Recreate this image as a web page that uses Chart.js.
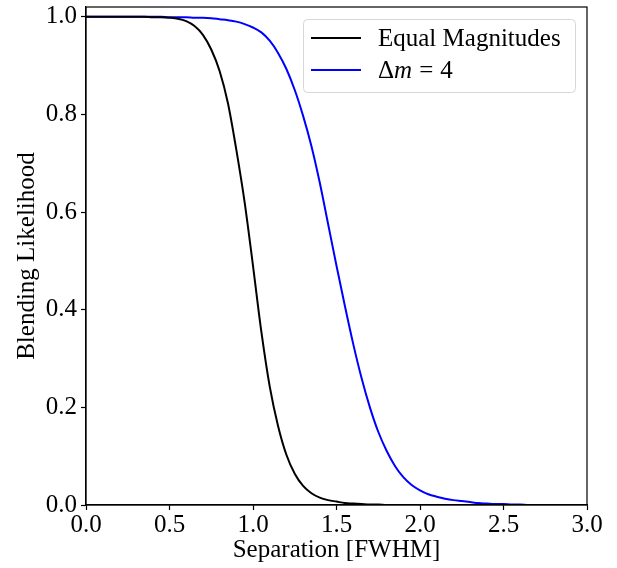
<!DOCTYPE html>
<html>
<head>
<meta charset="utf-8">
<script src="https://cdn.jsdelivr.net/npm/chart.js@4"></script>
<style>
  html, body { margin: 0; padding: 0; background: #fff; }
  #wrap { position: relative; width: 617px; height: 568px; }
</style>
</head>
<body>
<div id="wrap"><canvas id="chart"></canvas></div>
<script>
// ─── Data ────────────────────────────────────────────────────────────────────

const separation = [
  0.00, 0.05, 0.10, 0.15, 0.20, 0.25, 0.30, 0.35, 0.40, 0.45,
  0.50, 0.55, 0.60, 0.65, 0.70, 0.75, 0.80, 0.85, 0.90, 0.95,
  1.00, 1.05, 1.10, 1.15, 1.20, 1.25, 1.30, 1.35, 1.40, 1.45,
  1.50, 1.55, 1.60, 1.65, 1.70, 1.75, 1.80, 1.85, 1.90, 1.95,
  2.00, 2.05, 2.10, 2.15, 2.20, 2.25, 2.30, 2.35, 2.40, 2.45,
  2.50, 2.55, 2.60, 2.65, 2.70, 2.75, 2.80, 2.85, 2.90, 2.95,
  3.00,
];

const equalMagnitudes = [
  1.000, 1.000, 1.000, 1.000, 1.000, 1.000, 1.000, 1.000, 0.999, 0.999,
  0.998, 0.996, 0.991, 0.981, 0.963, 0.933, 0.889, 0.823, 0.728, 0.620,
  0.490, 0.355, 0.243, 0.162, 0.103, 0.064, 0.039, 0.024, 0.015, 0.010,
  0.007, 0.004, 0.003, 0.002, 0.001, 0.001, 0.000, 0.000, 0.000, 0.000,
  0.000, 0.000, 0.000, 0.000, 0.000, 0.000, 0.000, 0.000, 0.000, 0.000,
  0.000, 0.000, 0.000, 0.000, 0.000, 0.000, 0.000, 0.000, 0.000, 0.000,
  0.000,
];

const deltaM4 = [
  1.000, 1.000, 1.000, 1.000, 1.000, 1.000, 1.000, 1.000, 1.000, 1.000,
  0.999, 0.999, 0.999, 0.998, 0.998, 0.997, 0.995, 0.993, 0.990, 0.985,
  0.978, 0.968, 0.951, 0.926, 0.893, 0.850, 0.797, 0.735, 0.660, 0.575,
  0.490, 0.408, 0.330, 0.260, 0.200, 0.150, 0.111, 0.080, 0.057, 0.041,
  0.030, 0.022, 0.017, 0.013, 0.010, 0.008, 0.006, 0.004, 0.003, 0.002,
  0.002, 0.001, 0.001, 0.000, 0.000, 0.000, 0.000, 0.000, 0.000, 0.000,
  0.000,
];

const xTicks = [0, 0.5, 1.0, 1.5, 2.0, 2.5, 3.0];
const yTicks = [0, 0.2, 0.4, 0.6, 0.8, 1.0];

// ─── Styling ─────────────────────────────────────────────────────────────────

const SERIF = '"Liberation Serif", "DejaVu Serif", serif';
const FONT = { family: SERIF, size: 25 };

const pts = ys => separation.map((x, i) => ({ x, y: ys[i] }));

// frame around the plot + legend box inside the axes
const framePlugin = {
  id: 'frame',
  afterDraw(chart) {
    const { ctx, chartArea: a } = chart;
    ctx.save();
    ctx.strokeStyle = '#000';
    ctx.lineWidth = 1.2;
    ctx.strokeRect(a.left, a.top, a.right - a.left, a.bottom - a.top);

    // legend
    const bx = 303, by = 19, bw = 272, bh = 73;
    ctx.fillStyle = 'rgba(255,255,255,0.8)';
    ctx.strokeStyle = '#d6d6d6';
    ctx.lineWidth = 1;
    ctx.beginPath();
    ctx.roundRect(bx + 0.5, by + 0.5, bw, bh, 4);
    ctx.fill();
    ctx.stroke();

    const rows = [38, 70];
    chart.data.datasets.forEach((ds, i) => {
      const y = rows[i];
      ctx.strokeStyle = ds.borderColor;
      ctx.lineWidth = 2;
      ctx.beginPath();
      ctx.moveTo(311, y);
      ctx.lineTo(361, y);
      ctx.stroke();
    });

    ctx.fillStyle = '#000';
    ctx.textBaseline = 'middle';
    ctx.textAlign = 'left';
    ctx.font = `25px ${SERIF}`;
    ctx.fillText('Equal Magnitudes', 378, rows[0] + 1);
    // Δm = 4 with italic m
    let x = 378;
    ctx.fillText('Δ', x, rows[1] + 1);
    x += ctx.measureText('Δ').width;
    ctx.font = `italic 25px ${SERIF}`;
    ctx.fillText('m', x, rows[1] + 1);
    x += ctx.measureText('m').width + 7;
    ctx.font = `25px ${SERIF}`;
    ctx.fillText('=', x, rows[1] + 1);
    x += ctx.measureText('=').width + 7;
    ctx.fillText('4', x, rows[1] + 1);
    ctx.restore();
  },
};

new Chart(document.getElementById('chart'), {
  type: 'line',
  data: {
    datasets: [
      {
        label: 'Equal Magnitudes',
        data: pts(equalMagnitudes),
        borderColor: '#000000',
        borderWidth: 2,
        pointRadius: 0,
        cubicInterpolationMode: 'monotone',
      },
      {
        label: 'Δm = 4',
        data: pts(deltaM4),
        borderColor: '#0000ff',
        borderWidth: 2,
        pointRadius: 0,
        cubicInterpolationMode: 'monotone',
      },
    ],
  },
  options: {
    responsive: true,
    maintainAspectRatio: false,
    animation: false,
    events: [],
    layout: { padding: { left: 12, right: 30, top: 7, bottom: 0 } },
    plugins: {
      legend: { display: false },
      tooltip: { enabled: false },
    },
    scales: {
      x: {
        type: 'linear',
        min: 0,
        max: 3,
        afterBuildTicks: s => { s.ticks = xTicks.map(v => ({ value: v })); },
        afterFit: s => { s.height = 63; s.paddingLeft = 0; s.paddingRight = 0; },
        ticks: {
          color: '#000',
          font: FONT,
          padding: 0,
          maxRotation: 0,
          callback: v => v.toFixed(1),
        },
        grid: { drawOnChartArea: false, tickLength: 5, color: '#000', tickWidth: 1.2 },
        border: { display: true, color: '#000', width: 1.2 },
        title: { display: true, text: 'Separation [FWHM]', color: '#000', font: FONT, padding: { top: 0, bottom: 3 } },
      },
      y: {
        min: 0,
        max: 1.02,
        afterBuildTicks: s => { s.ticks = yTicks.map(v => ({ value: v })); },
        afterFit: s => { s.width = 74; s.paddingTop = 0; s.paddingBottom = 0; },
        ticks: {
          color: '#000',
          font: FONT,
          padding: 4,
          callback: v => v.toFixed(1),
        },
        grid: { drawOnChartArea: false, tickLength: 5, color: '#000', tickWidth: 1.2 },
        border: { display: true, color: '#000', width: 1.2 },
        title: { display: true, text: 'Blending Likelihood', color: '#000', font: FONT, padding: 0 },
      },
    },
  },
  plugins: [framePlugin],
});
</script>
</body>
</html>
